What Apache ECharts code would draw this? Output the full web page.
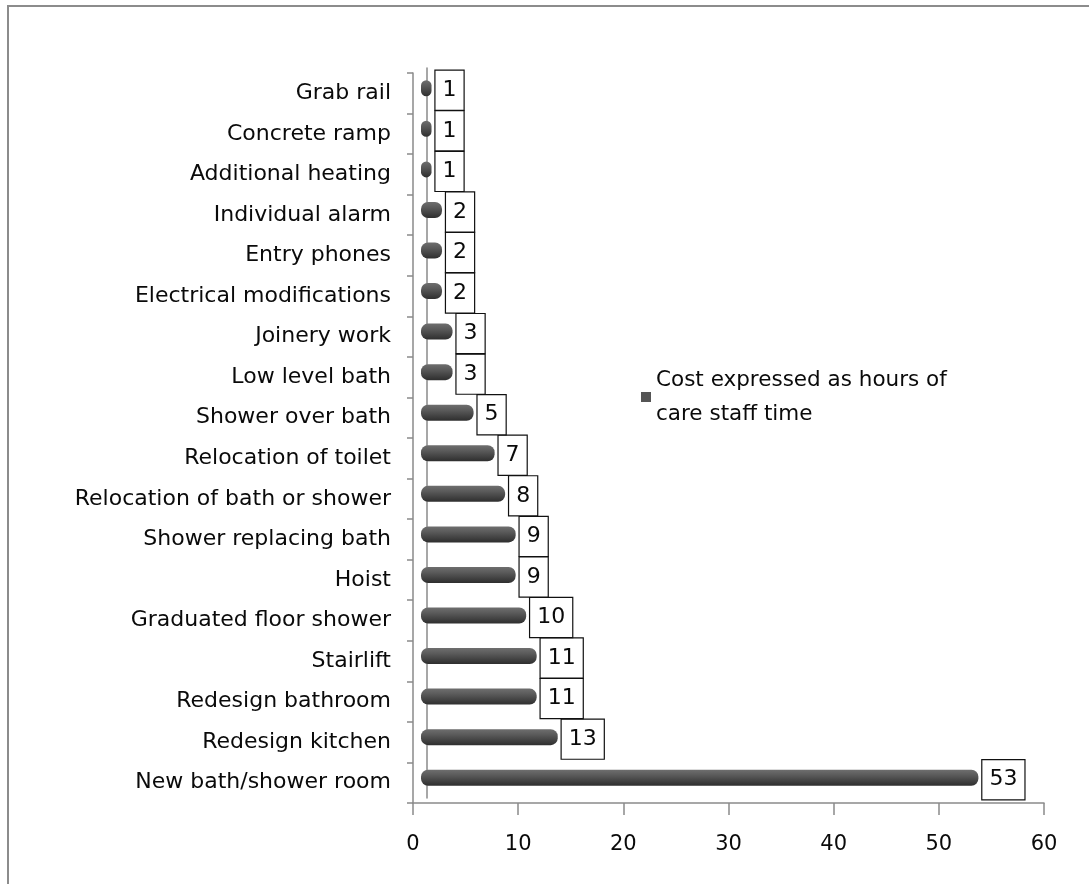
<!DOCTYPE html>
<html>
<head>
<meta charset="utf-8">
<script src="https://cdn.jsdelivr.net/npm/echarts@6/dist/echarts.min.js"></script>
<style>
html,body{margin:0;padding:0;background:#fff;}
#c{width:1089px;height:884px;}
</style>
</head>
<body>
<div id="c"></div>
<script>
// Data (bottom to top, as ECharts category axis goes upward)
const categories = [
  "New bath/shower room", "Redesign kitchen", "Redesign bathroom", "Stairlift",
  "Graduated floor shower", "Hoist", "Shower replacing bath", "Relocation of bath or shower",
  "Relocation of toilet", "Shower over bath", "Low level bath", "Joinery work",
  "Electrical modifications", "Entry phones", "Individual alarm", "Additional heating",
  "Concrete ramp", "Grab rail"
];
const hoursValues = [53, 13, 11, 11, 10, 9, 9, 8, 7, 5, 3, 3, 2, 2, 2, 1, 1, 1];
const seriesName = "Cost expressed as hours of care staff time";
const xTicks = { min: 0, max: 60, interval: 10 };

const font = "'DejaVu Sans', 'Open Sans', sans-serif";
const axisGrey = "#8a8a8a";

const chart = echarts.init(document.getElementById('c'));
chart.setOption({
  backgroundColor: '#ffffff',
  animation: false,
  graphic: [{
    type: 'rect', shape: { x: 8, y: 6, width: 1100, height: 900 },
    style: { fill: 'none', stroke: '#8c8c8c', lineWidth: 2 }, silent: true
  }],
  legend: {
    data: [seriesName],
    left: 636, top: 341,
    itemWidth: 10, itemHeight: 10, itemGap: 10,
    icon: 'rect',
    itemStyle: { color: '#555' },
    formatter: () => 'Cost expressed as hours of\ncare staff time',
    textStyle: { fontFamily: font, fontSize: 21.5, color: '#0a0a0a', lineHeight: 34, padding: [34, 0, 0, 0] }
  },
  grid: [
    { left: 413, right: 45, top: 73, bottom: 81, containLabel: false },
    { left: 421, right: 37, top: 68, bottom: 86, containLabel: false }
  ],
  xAxis: [
    {
      gridIndex: 0, type: 'value', min: xTicks.min, max: xTicks.max, interval: xTicks.interval,
      axisLine: { show: true, lineStyle: { color: axisGrey, width: 1.5 } },
      axisTick: { show: true, length: 12, lineStyle: { color: axisGrey, width: 1.5 } },
      axisLabel: { margin: 31, fontFamily: font, fontSize: 21, color: '#0a0a0a' },
      splitLine: { show: false }
    },
    {
      gridIndex: 1, type: 'value', min: xTicks.min, max: xTicks.max, interval: xTicks.interval,
      show: false, splitLine: { show: false }
    }
  ],
  yAxis: [
    {
      gridIndex: 0, type: 'category', data: categories,
      axisLine: { show: true, lineStyle: { color: axisGrey, width: 1.5 } },
      axisTick: { show: true, length: 6, lineStyle: { color: axisGrey, width: 1.5 } },
      axisLabel: { margin: 22, fontFamily: font, fontSize: 22, color: '#0a0a0a' }
    },
    {
      gridIndex: 1, type: 'category', data: categories, offset: -6,
      axisLine: { show: true, lineStyle: { color: axisGrey, width: 1.5 } },
      axisTick: { show: false }, axisLabel: { show: false }
    }
  ],
  series: [{
    name: seriesName,
    type: 'bar',
    xAxisIndex: 1, yAxisIndex: 1,
    data: hoursValues,
    barWidth: 16,
    itemStyle: {
      borderRadius: 7,
      color: new echarts.graphic.LinearGradient(0, 0, 0, 1, [
        { offset: 0, color: '#6e6e6e' },
        { offset: 0.35, color: '#5a5a5a' },
        { offset: 1, color: '#2e2e2e' }
      ])
    },
    label: {
      show: true, position: 'right', distance: 4,
      fontFamily: font, fontSize: 22, color: '#0a0a0a',
      backgroundColor: '#fff', borderColor: '#111', borderWidth: 1.2,
      padding: [9, 7, 8, 7], offset: [0, 2]
    }
  }]
});
</script>
</body>
</html>
